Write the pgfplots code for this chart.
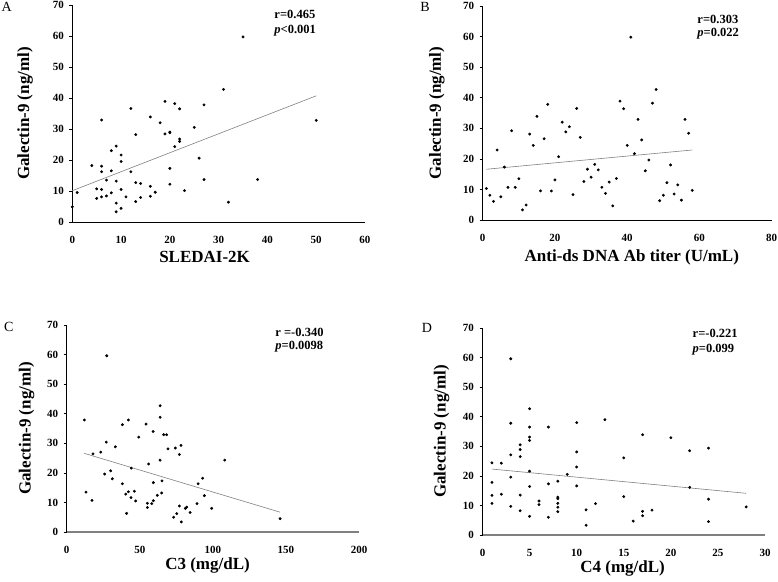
\documentclass[border=0pt]{standalone}
\usepackage{fontspec}
\setmainfont{Liberation Serif}
\usepackage{pgfplots}
\pgfplotsset{compat=1.18}
\newcommand{\fs}[1]{\fontsize{#1}{#1}\selectfont}
\tikzset{stat/.style={font=\bfseries\fs{12.5}, anchor=west, inner sep=0pt}}
\pgfplotsset{
 dots/.style={only marks, mark=*, mark size=1.25pt, black},
 fit/.style={gray, line width=0.6pt, no marks},
 panel/.style={
  scale only axis, clip=false, anchor=south west,
  axis lines*=left, axis line style={-, black, line width=0.7pt},
  ymin=0, ymax=70, ytick={0,10,...,70},
  tick align=outside, major tick length=3pt,
  ytick style={black, line width=0.6pt},
  xtick style={draw=none},
  /pgf/number format/assume math mode=true,
  xticklabel style={font=\bfseries\fs{11}, inner sep=1pt, yshift=-10.1pt},
  yticklabel style={font=\bfseries\fs{11}, xshift=-2pt},
  ylabel={Galectin-9 (ng/ml)},
  every axis y label/.style={rotate=90, anchor=center, inner sep=0pt, font=\bfseries\fs{17}},
  every axis x label/.style={anchor=center, inner sep=0pt, font=\bfseries\fs{17}},
 },
}
\begin{document}
\begin{tikzpicture}[x=1pt,y=1pt]
\useasboundingbox (0,0) rectangle (778,581);
\node[font=\fs{14}] at (6.7,573.8) {A};
\node[font=\fs{14}] at (425,574) {B};
\node[font=\fs{14}] at (8.7,254) {C};
\node[font=\fs{14}] at (427,253.3) {D};
% Panel A
\begin{axis}[panel, at={(72.3pt,359pt)}, width=292.7pt, height=217pt,
  xmin=0, xmax=60, xtick={0,10,...,60}, xlabel={SLEDAI-2K},
  xlabel style={at={(axis description cs:0.452,-0.16)}},
  ylabel style={at={(axis description cs:-0.161,0.5)}}]
\addplot[fit] coordinates {(0,10.1)(50,40.7)};
\addplot[dots] coordinates {(0,4.9)(1,9.5)(4,18.2)(5,10.7)(5,7.6)(6,32.9)(6,18.0)(6,16.2)(6,10.5)(6,8.1)(7,13.5)(7,8.4)(8,23.0)(8,16.5)(8,9.4)(9,24.5)(9,13.2)(9,6.1)(9,3.3)(10,21.6)(10,19.5)(10,10.5)(10,4.4)(11,8.1)(12,36.6)(12,16.2)(13,28.2)(13,12.7)(13,6.6)(14,12.4)(14,7.9)(16,33.9)(16,11.5)(16,8.3)(17,9.6)(18,32.0)(19,38.9)(19,28.4)(20,29.0)(20,28.8)(20,17.3)(20,12.2)(21,38.2)(21,24.3)(22,36.5)(22,26.8)(22,26.0)(23,10.1)(25,30.5)(26,20.6)(27,37.8)(27,13.7)(31,42.8)(32,6.4)(35,59.7)(38,13.7)(50,32.8)};
\node[stat] at (axis cs:41.4,66.8) {r=0.465};
\node[stat] at (axis cs:41.4,61.7) {{\itshape p}<0.001};
\end{axis}
% Panel B
\begin{axis}[panel, at={(482.7pt,361pt)}, width=289pt, height=214pt,
  xmin=0, xmax=80, xtick={0,20,...,80}, xlabel={Anti-ds DNA Ab titer (U/mL)},
  xlabel style={at={(axis description cs:0.516,-0.174)}},
  ylabel style={at={(axis description cs:-0.159,0.5)}}]
\addplot[fit] coordinates {(1,16.6)(58,22.9)};
\addplot[dots] coordinates {(1,10.3)(2,8.1)(3,6.1)(4,22.9)(5,7.6)(6,17.3)(7,10.7)(8,29.2)(9,10.7)(10,13.5)(11,3.3)(12,4.9)(13,28.1)(14,24.4)(15,33.9)(16,9.5)(17,26.6)(18,37.8)(19,9.5)(20,13.1)(21,20.7)(22,32.0)(23,28.8)(24,30.5)(25,8.3)(26,36.5)(27,27.0)(28,12.6)(29,16.6)(30,14.0)(31,18.2)(32,16.4)(33,10.7)(34,8.7)(35,12.4)(36,4.6)(37,13.6)(38,38.9)(39,36.4)(40,24.4)(41,59.8)(42,21.7)(43,32.9)(44,26.2)(45,16.1)(46,19.6)(47,38.2)(48,42.7)(49,6.3)(50,8.1)(51,12.2)(52,18.0)(53,8.5)(54,11.5)(55,6.5)(56,32.9)(57,28.4)(58,9.7)};
\node[stat] at (axis cs:59.4,65.7) {r=0.303};
\node[stat] at (axis cs:59.4,61.1) {{\itshape p}=0.022};
\end{axis}
% Panel C
\begin{axis}[panel, at={(66.7pt,49pt)}, width=292.3pt, height=207pt,
  x axis line style={gray, line width=1.2pt},
  xmin=0, xmax=200, xtick={0,50,...,200}, xlabel={C3 (mg/dL)},
  xlabel style={at={(axis description cs:0.482,-0.163)}},
  ylabel style={at={(axis description cs:-0.137,0.5)}}]
\addplot[fit] coordinates {(12,26.6)(146,6.7)};
\addplot[dots] coordinates {(12.1,37.9)(13.2,13.5)(17.3,10.7)(18,26.4)(23.3,27.0)(26,19.6)(27.1,30.4)(27.4,59.6)(30.1,20.7)(31.2,18.0)(33.3,28.8)(38.1,16.3)(38.1,36.3)(40.4,12.8)(41,6.3)(42.2,13.6)(42.2,37.9)(44,11.6)(44.2,21.6)(46.3,13.8)(47.2,10.5)(49.3,32.1)(54.3,36.5)(55.2,9.7)(55.2,8.3)(56.1,23.0)(58.2,9.6)(59.1,34.0)(59.3,16.7)(59.3,10.6)(62,12.4)(63.9,42.7)(63.9,38.8)(63.9,24.3)(65,13.2)(65.2,17.3)(66.4,32.9)(68.4,32.9)(69.3,28.1)(73.2,5.0)(74.3,28.4)(75.3,6.2)(77.1,26.2)(77.1,8.8)(78.2,29.3)(78.4,3.4)(81.2,8.0)(82.1,8.4)(84.4,6.6)(89.2,9.6)(89.9,16.3)(93,18.2)(94.2,12.3)(99.2,8.0)(108.1,24.3)(146,4.5)};
\node[stat] at (axis cs:142.7,67.5) {r =-0.340};
\node[stat] at (axis cs:142.7,62.7) {{\itshape p}=0.0098};
\end{axis}
% Panel D
\begin{axis}[panel, at={(482.5pt,46pt)}, width=282.5pt, height=207pt,
  x axis line style={gray, line width=1.2pt},
  xmin=0, xmax=30, xtick={0,5,...,30}, xlabel={C4 (mg/dL)},
  xlabel style={at={(axis description cs:0.496,-0.162)}},
  ylabel style={at={(axis description cs:-0.145,0.5)}}]
\addplot[fit] coordinates {(1,22.3)(28,14.1)};
\addplot[dots] coordinates {(1,24.4)(1,17.8)(1,13.4)(1,10.7)(2,24.3)(2,13.8)(3,59.6)(3,37.8)(3,27.1)(3,19.6)(3,9.7)(4,30.5)(4,28.9)(4,26.5)(4,13.5)(4,8.2)(5,42.7)(5,36.5)(5,33.1)(5,32.0)(5,21.6)(5,16.4)(5,6.3)(6,11.5)(6,10.3)(7,36.5)(7,17.3)(7,6.0)(8,18.2)(8,12.8)(8,12.3)(8,10.7)(8,9.4)(8,7.9)(9,20.5)(10,38.0)(10,28.1)(10,23.0)(10,16.6)(11,8.5)(11,3.3)(12,10.6)(13,39.0)(15,26.1)(15,13.0)(16,4.7)(17,33.9)(17,8.0)(17,6.5)(18,8.4)(20,32.9)(22,28.5)(22,16.1)(24,29.4)(24,12.1)(24,4.5)(28,9.5)};
\node[stat] at (axis cs:22.3,68.0) {r=-0.221};
\node[stat] at (axis cs:22.3,62.8) {{\itshape p}=0.099};
\end{axis}
\end{tikzpicture}
\end{document}
